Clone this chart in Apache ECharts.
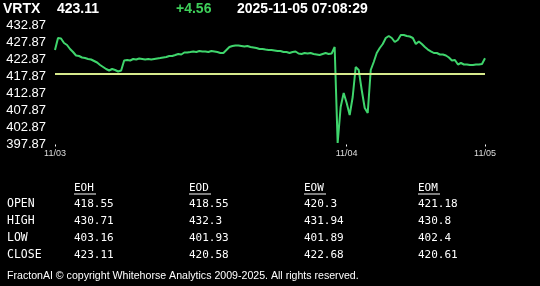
<!DOCTYPE html>
<html>
<head>
<meta charset="utf-8">
<script src="https://cdn.jsdelivr.net/npm/echarts@6/dist/echarts.min.js"></script>
<style>
html,body{margin:0;padding:0;background:#000;}
#c{width:540px;height:286px;}
</style>
</head>
<body>
<div id="c"></div>
<script>
// ---- header ----
const symbol = 'VRTX';
const lastPrice = '423.11';
const change = '+4.56';
const stamp = '2025-11-05 07:08:29';

// ---- price series (intraday, 11/03 → 11/05) ----
const prices = [
  425.55, 429.06, 428.92, 427.60, 427.01, 425.84, 424.96, 423.94, 423.79, 423.35,
  423.20, 422.91, 422.76, 422.33, 421.89, 421.15, 420.57, 419.98, 419.54, 419.98,
  419.69, 419.25, 419.54, 422.47, 422.62, 422.47, 422.91, 422.76, 423.06, 422.91,
  422.76, 422.91, 422.76, 422.91, 423.06, 423.20, 423.35, 423.50, 423.79, 423.79,
  424.08, 424.38, 424.23, 424.82, 424.82, 424.96, 425.11, 424.96, 425.25, 425.11,
  425.11, 424.96, 425.25, 425.11, 424.96, 424.67, 424.67, 425.55, 426.43, 426.72,
  426.87, 426.87, 426.72, 426.57, 426.72, 426.43, 426.28, 426.13, 425.84, 425.84,
  425.69, 425.55, 425.55, 425.40, 425.25, 425.25, 424.96, 424.96, 424.67, 424.96,
  425.11, 424.52, 424.38, 424.67, 424.52, 424.67, 424.38, 424.23, 424.08, 424.38,
  424.67, 424.38, 424.52, 426.43, 398.31, 408.85, 412.95, 410.02, 406.51, 411.78,
  420.57, 419.69, 413.83, 408.56, 407.09, 419.69, 422.03, 424.67, 426.13, 427.30,
  429.06, 429.65, 429.06, 427.89, 428.48, 429.94, 429.94, 429.65, 429.50, 429.06,
  427.30, 428.04, 427.30, 426.43, 425.69, 425.17, 424.67, 424.67, 424.23, 424.23,
  423.94, 423.35, 422.47, 422.62, 421.30, 421.74, 421.30, 421.30, 421.15, 421.15,
  421.30, 421.30, 421.45, 423.11
];
const openRef = 418.55;

// ---- axes ----
const xTickIdx = [0, 97, 143];
const xTickLabels = ['11/03', '11/04', '11/05'];
const yMin = 397.87, yMax = 432.87, yStep = 5;

// ---- stats table ----
const colHeads = ['EOH', 'EOD', 'EOW', 'EOM'];
const rowHeads = ['OPEN', 'HIGH', 'LOW', 'CLOSE'];
const colEOH = ['418.55', '430.71', '403.16', '423.11'];
const colEOD = ['418.55', '432.3', '401.93', '420.58'];
const colEOW = ['420.3', '431.94', '401.89', '422.68'];
const colEOM = ['421.18', '430.8', '402.4', '420.61'];
const footer = 'FractonAI \u00a9 copyright Whitehorse Analytics 2009-2025. All rights reserved.';

const categories = prices.map((_, i) => {
  const k = xTickIdx.indexOf(i);
  return k >= 0 ? xTickLabels[k] : String(i);
});
const isTick = (i) => xTickIdx.indexOf(i) >= 0;

const chart = echarts.init(document.getElementById('c'), null, {renderer: 'canvas'});

const sans = '"Liberation Sans", Arial, sans-serif';
const mono = '"DejaVu Sans Mono", monospace';
const graphics = [];
// header texts
graphics.push({type:'text', left:3, top:2, style:{text:symbol, fill:'#fff', font:'bold 14px ' + sans}});
graphics.push({type:'text', left:57, top:2, style:{text:lastPrice, fill:'#fff', font:'bold 14px ' + sans}});
graphics.push({type:'text', left:176, top:2, style:{text:change, fill:'#3ecf5a', font:'bold 14px ' + sans}});
graphics.push({type:'text', left:237, top:2, style:{text:stamp, fill:'#fff', font:'bold 14px ' + sans}});

// table
const colX = [74, 189, 304, 418];
const rowY = [204, 221.5, 238.5, 255.5];
const cols = [colEOH, colEOD, colEOW, colEOM];
colHeads.forEach((h, c) => {
  graphics.push({type:'text', x:colX[c], y:188, style:{text:h, fill:'#fff', font:'11px ' + mono, textVerticalAlign:'middle'}});
  graphics.push({type:'rect', shape:{x:colX[c], y:193.5, width:22, height:1}, style:{fill:'#fff'}});
});
rowHeads.forEach((r, k) => {
  graphics.push({type:'text', x:7, y:rowY[k], style:{text:r, fill:'#fff', font:'11.5px ' + mono, textVerticalAlign:'middle'}});
  cols.forEach((col, c) => {
    graphics.push({type:'text', x:colX[c], y:rowY[k], style:{text:col[k], fill:'#fff', font:'11px ' + mono, textVerticalAlign:'middle'}});
  });
});
graphics.push({type:'text', x:7, y:276, style:{text:footer, fill:'#fff', font:'10.6px ' + sans, textVerticalAlign:'middle'}});

chart.setOption({
  backgroundColor: '#000',
  animation: false,
  grid: {left: 55, right: 55, top: 25, bottom: 141.5},
  xAxis: {
    type: 'category',
    data: categories,
    boundaryGap: false,
    axisLine: {show: false},
    axisTick: {show: true, interval: (i) => isTick(i), length: 2, lineStyle: {color: '#fff', width: 1}},
    axisLabel: {interval: (i) => isTick(i), color: '#ddd', fontSize: 9, fontFamily: sans, margin: 5},
    splitLine: {show: false}
  },
  yAxis: {
    type: 'value',
    min: yMin, max: yMax, interval: yStep,
    axisLine: {show: false},
    axisTick: {show: false},
    splitLine: {show: false},
    axisLabel: {color: '#fff', fontSize: 13, fontFamily: sans, margin: 9,
      formatter: (v) => v.toFixed(2)}
  },
  series: [{
    type: 'line',
    data: prices,
    showSymbol: false,
    lineStyle: {color: '#3fd56c', width: 2},
    markLine: {
      silent: true,
      symbol: 'none',
      label: {show: false},
      lineStyle: {color: '#d6e98c', width: 2, type: 'solid'},
      data: [{yAxis: openRef}]
    }
  }],
  graphic: graphics
});
</script>
</body>
</html>
